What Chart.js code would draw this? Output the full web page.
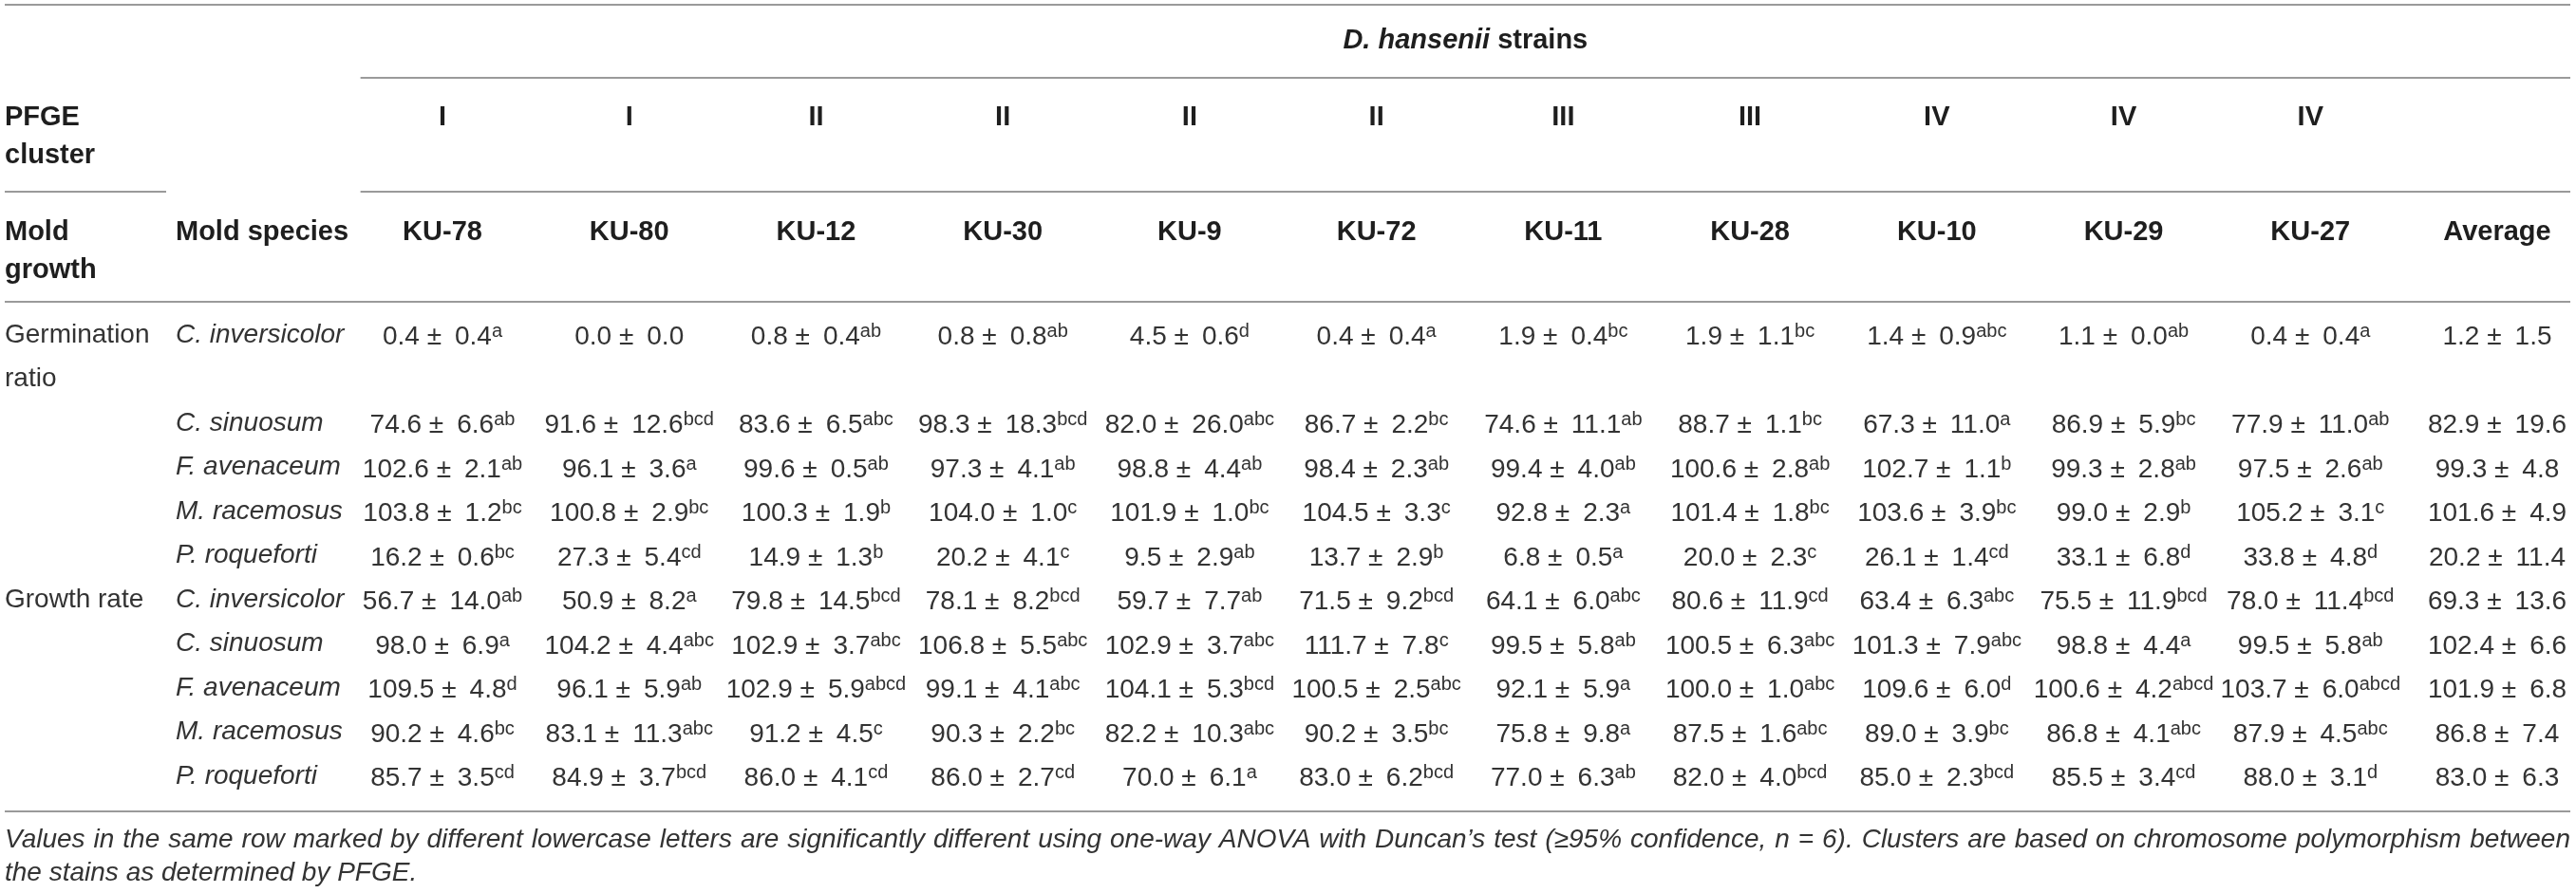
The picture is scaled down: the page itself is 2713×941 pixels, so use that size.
<!DOCTYPE html>
<html>
<head>
<meta charset="utf-8">
<script src="https://cdn.jsdelivr.net/npm/chart.js@4.4.1/dist/chart.umd.min.js"></script>
<style>
  html, body { margin: 0; padding: 0; background: #fff; overflow: hidden; }
  #wrap { width: 2713px; height: 941px; position: relative; }
</style>
</head>
<body>
<div id="wrap"><canvas id="chart"></canvas></div>
<script>
// Table content
const strains = ["KU-78", "KU-80", "KU-12", "KU-30", "KU-9", "KU-72", "KU-11", "KU-28", "KU-10", "KU-29", "KU-27"];
const clusters = ["I", "I", "II", "II", "II", "II", "III", "III", "IV", "IV", "IV"];
const averageLabel = "Average";
const species = ["C. inversicolor", "C. sinuosum", "F. avenaceum", "M. racemosus", "P. roqueforti"];
const measures = ["Germination ratio", "Growth rate"];
const headTitle = ["D. hansenii", "strains"];
const headCluster = "PFGE cluster";
const headGrowth = "Mold growth";
const headSpecies = "Mold species";

// Germination ratio: mean, SD, Duncan letters (last column = average)
const germMean = [
  [0.4, 0.0, 0.8, 0.8, 4.5, 0.4, 1.9, 1.9, 1.4, 1.1, 0.4, 1.2],
  [74.6, 91.6, 83.6, 98.3, 82.0, 86.7, 74.6, 88.7, 67.3, 86.9, 77.9, 82.9],
  [102.6, 96.1, 99.6, 97.3, 98.8, 98.4, 99.4, 100.6, 102.7, 99.3, 97.5, 99.3],
  [103.8, 100.8, 100.3, 104.0, 101.9, 104.5, 92.8, 101.4, 103.6, 99.0, 105.2, 101.6],
  [16.2, 27.3, 14.9, 20.2, 9.5, 13.7, 6.8, 20.0, 26.1, 33.1, 33.8, 20.2],
];
const germSd = [
  [0.4, 0.0, 0.4, 0.8, 0.6, 0.4, 0.4, 1.1, 0.9, 0.0, 0.4, 1.5],
  [6.6, 12.6, 6.5, 18.3, 26.0, 2.2, 11.1, 1.1, 11.0, 5.9, 11.0, 19.6],
  [2.1, 3.6, 0.5, 4.1, 4.4, 2.3, 4.0, 2.8, 1.1, 2.8, 2.6, 4.8],
  [1.2, 2.9, 1.9, 1.0, 1.0, 3.3, 2.3, 1.8, 3.9, 2.9, 3.1, 4.9],
  [0.6, 5.4, 1.3, 4.1, 2.9, 2.9, 0.5, 2.3, 1.4, 6.8, 4.8, 11.4],
];
const germSig = [
  ["a", "", "ab", "ab", "d", "a", "bc", "bc", "abc", "ab", "a", ""],
  ["ab", "bcd", "abc", "bcd", "abc", "bc", "ab", "bc", "a", "bc", "ab", ""],
  ["ab", "a", "ab", "ab", "ab", "ab", "ab", "ab", "b", "ab", "ab", ""],
  ["bc", "bc", "b", "c", "bc", "c", "a", "bc", "bc", "b", "c", ""],
  ["bc", "cd", "b", "c", "ab", "b", "a", "c", "cd", "d", "d", ""],
];

// Growth rate
const growthMean = [
  [56.7, 50.9, 79.8, 78.1, 59.7, 71.5, 64.1, 80.6, 63.4, 75.5, 78.0, 69.3],
  [98.0, 104.2, 102.9, 106.8, 102.9, 111.7, 99.5, 100.5, 101.3, 98.8, 99.5, 102.4],
  [109.5, 96.1, 102.9, 99.1, 104.1, 100.5, 92.1, 100.0, 109.6, 100.6, 103.7, 101.9],
  [90.2, 83.1, 91.2, 90.3, 82.2, 90.2, 75.8, 87.5, 89.0, 86.8, 87.9, 86.8],
  [85.7, 84.9, 86.0, 86.0, 70.0, 83.0, 77.0, 82.0, 85.0, 85.5, 88.0, 83.0],
];
const growthSd = [
  [14.0, 8.2, 14.5, 8.2, 7.7, 9.2, 6.0, 11.9, 6.3, 11.9, 11.4, 13.6],
  [6.9, 4.4, 3.7, 5.5, 3.7, 7.8, 5.8, 6.3, 7.9, 4.4, 5.8, 6.6],
  [4.8, 5.9, 5.9, 4.1, 5.3, 2.5, 5.9, 1.0, 6.0, 4.2, 6.0, 6.8],
  [4.6, 11.3, 4.5, 2.2, 10.3, 3.5, 9.8, 1.6, 3.9, 4.1, 4.5, 7.4],
  [3.5, 3.7, 4.1, 2.7, 6.1, 6.2, 6.3, 4.0, 2.3, 3.4, 3.1, 6.3],
];
const growthSig = [
  ["ab", "a", "bcd", "bcd", "ab", "bcd", "abc", "cd", "abc", "bcd", "bcd", ""],
  ["a", "abc", "abc", "abc", "abc", "c", "ab", "abc", "abc", "a", "ab", ""],
  ["d", "ab", "abcd", "abc", "bcd", "abc", "a", "abc", "d", "abcd", "abcd", ""],
  ["bc", "abc", "c", "bc", "abc", "bc", "a", "abc", "bc", "abc", "abc", ""],
  ["cd", "bcd", "cd", "cd", "a", "bcd", "ab", "bcd", "bcd", "cd", "d", ""],
];

const noteLines = [
  "Values in the same row marked by different lowercase letters are significantly different using one-way ANOVA with Duncan\u2019s test (\u226595% confidence, n = 6). Clusters are based on chromosome polymorphism between",
  "the stains as determined by PFGE.",
];

// Styles
const FAMILY = '"Liberation Sans", Arial, Helvetica, sans-serif';
const BODY_FONT = "28px " + FAMILY;
const SUP_FONT = "20px " + FAMILY;
const HEAD_FONT = "bold 29px " + FAMILY;
const HEAD_ITALIC = "italic bold 29px " + FAMILY;
const BODY_COLOR = "#333333";
const HEAD_COLOR = "#1e1e1e";
const RULE_COLOR = "#9a9a9a";
const WRAP_WIDTH = 170;

const measureCtx = document.createElement("canvas").getContext("2d");
function wrapText(text, font, width) {
  measureCtx.font = font;
  const words = text.split(" ");
  const lines = [];
  let line = "";
  words.forEach((w) => {
    const test = line ? line + " " + w : w;
    if (line && measureCtx.measureText(test).width > width) {
      lines.push(line);
      line = w;
    } else {
      line = test;
    }
  });
  lines.push(line);
  return lines;
}

const columns = [...strains, averageLabel];
const blocks = [
  { mean: germMean, sd: germSd, sig: germSig },
  { mean: growthMean, sd: growthSd, sig: growthSig },
];

// Row slots for the y axis (a wrapped group label adds a slot)
const rows = [];
measures.forEach((m, mi) => {
  const lines = wrapText(m, BODY_FONT, WRAP_WIDTH);
  species.forEach((s, si) => {
    rows.push({ key: m + " | " + s, group: si === 0 ? lines[0] : "", species: s, mi: mi, si: si });
    if (si === 0) {
      lines.slice(1).forEach((ln, k) => {
        rows.push({ key: m + " | line " + (k + 2), group: ln, species: "", mi: -1, si: -1 });
      });
    }
  });
});
const rowKeys = rows.map((r) => r.key);

const datasets = rows
  .filter((r) => r.mi >= 0)
  .map((r) => ({
    label: r.key,
    data: columns.map((c, j) => ({
      x: c,
      y: r.key,
      mean: blocks[r.mi].mean[r.si][j],
      sd: blocks[r.mi].sd[r.si][j],
      sig: blocks[r.mi].sig[r.si][j],
    })),
    pointRadius: 0,
    showLine: false,
  }));

function hRule(ctx, x0, x1, y) {
  ctx.beginPath();
  ctx.moveTo(x0, y);
  ctx.lineTo(x1, y);
  ctx.stroke();
}

function drawJustified(ctx, text, x0, x1, y) {
  const words = text.split(" ");
  const widths = words.map((w) => ctx.measureText(w).width);
  const total = widths.reduce((a, b) => a + b, 0);
  const gap = (x1 - x0 - total) / (words.length - 1);
  let x = x0;
  words.forEach((w, i) => {
    ctx.fillText(w, x, y);
    x += widths[i] + gap;
  });
}

const tablePlugin = {
  id: "tableText",
  afterDraw(chart) {
    const ctx = chart.ctx;
    const xs = chart.scales.x;
    const yg = chart.scales.yGroup;
    const ys = chart.scales.y;
    const area = chart.chartArea;
    const colX = (i) => xs.getPixelForValue(i);
    const step = colX(1) - colX(0);
    const left = yg.left;
    const right = chart.width - 6;
    const spanLeft = colX(0) - step / 2 + 12;

    ctx.save();

    // rules
    ctx.strokeStyle = RULE_COLOR;
    ctx.lineWidth = 2;
    hRule(ctx, left, right, 5);
    hRule(ctx, spanLeft, right, 82);
    hRule(ctx, left, yg.right - 10, 202);
    hRule(ctx, spanLeft, right, 202);
    hRule(ctx, left, right, area.top - 35);
    hRule(ctx, left, right, area.bottom + 37);

    // header text
    ctx.fillStyle = HEAD_COLOR;
    ctx.textBaseline = "alphabetic";
    ctx.font = HEAD_ITALIC;
    const wA = ctx.measureText(headTitle[0] + " ").width;
    ctx.font = HEAD_FONT;
    const wB = ctx.measureText(headTitle[1]).width;
    let tx = (spanLeft + right) / 2 - (wA + wB) / 2;
    ctx.textAlign = "left";
    ctx.font = HEAD_ITALIC;
    ctx.fillText(headTitle[0] + " ", tx, 51);
    ctx.font = HEAD_FONT;
    ctx.fillText(headTitle[1], tx + wA, 51);

    wrapText(headCluster, HEAD_FONT, WRAP_WIDTH).forEach((ln, k) => {
      ctx.fillText(ln, left, 132 + k * 40);
    });
    wrapText(headGrowth, HEAD_FONT, WRAP_WIDTH).forEach((ln, k) => {
      ctx.fillText(ln, left, 253 + k * 40);
    });
    ctx.fillText(headSpecies, ys.left, 253);

    ctx.textAlign = "center";
    clusters.forEach((c, i) => ctx.fillText(c, colX(i), 132));
    columns.forEach((c, i) => ctx.fillText(c, colX(i), 253));

    // body cells
    ctx.fillStyle = BODY_COLOR;
    ctx.textAlign = "left";
    chart.data.datasets.forEach((ds, d) => {
      const meta = chart.getDatasetMeta(d);
      meta.data.forEach((pt, j) => {
        const cell = ds.data[j];
        const main = cell.mean.toFixed(1) + " \u00b1\u2002" + cell.sd.toFixed(1);
        ctx.font = BODY_FONT;
        const w1 = ctx.measureText(main).width;
        ctx.font = SUP_FONT;
        const w2 = cell.sig ? ctx.measureText(cell.sig).width : 0;
        const x0 = pt.x - (w1 + w2) / 2;
        ctx.font = BODY_FONT;
        ctx.fillText(main, x0, pt.y + 10);
        if (cell.sig) {
          ctx.font = SUP_FONT;
          ctx.fillText(cell.sig, x0 + w1, pt.y + 2);
        }
      });
    });

    // footnote, justified like the source
    let size = 28;
    const avail = right - left;
    ctx.font = "italic " + size + "px " + FAMILY;
    while (ctx.measureText(noteLines[0]).width > avail - 30 && size > 20) {
      size -= 0.5;
      ctx.font = "italic " + size + "px " + FAMILY;
    }
    ctx.fillStyle = BODY_COLOR;
    noteLines.forEach((ln, k) => {
      const y = area.bottom + 75 + k * 35;
      if (k < noteLines.length - 1) drawJustified(ctx, ln, left, right, y);
      else ctx.fillText(ln, left, y);
    });

    ctx.restore();
  },
};

const tickFont = { family: FAMILY, size: 28 };

new Chart(document.getElementById("chart"), {
  type: "scatter",
  data: { datasets: datasets },
  options: {
    responsive: true,
    maintainAspectRatio: false,
    devicePixelRatio: 1,
    animation: false,
    events: [],
    layout: { padding: { top: 353, bottom: 123, left: 5, right: 83 } },
    plugins: { legend: { display: false }, tooltip: { enabled: false } },
    scales: {
      x: {
        type: "category",
        labels: columns,
        offset: false,
        display: false,
      },
      y: {
        type: "category",
        labels: rowKeys,
        position: "left",
        weight: 0,
        offset: false,
        grid: { display: false },
        border: { display: false },
        afterFit: (s) => { s.width = 281; },
        ticks: {
          autoSkip: false,
          padding: 0,
          crossAlign: "far",
          color: BODY_COLOR,
          font: Object.assign({ style: "italic" }, tickFont),
          callback: (v, i) => rows[i].species,
        },
      },
      yGroup: {
        type: "category",
        labels: rowKeys,
        position: "left",
        weight: 1,
        offset: false,
        grid: { display: false },
        border: { display: false },
        afterFit: (s) => { s.width = 180; },
        ticks: {
          autoSkip: false,
          padding: 0,
          crossAlign: "far",
          color: BODY_COLOR,
          font: tickFont,
          callback: (v, i) => rows[i].group,
        },
      },
    },
  },
  plugins: [tablePlugin],
});
</script>
</body>
</html>
